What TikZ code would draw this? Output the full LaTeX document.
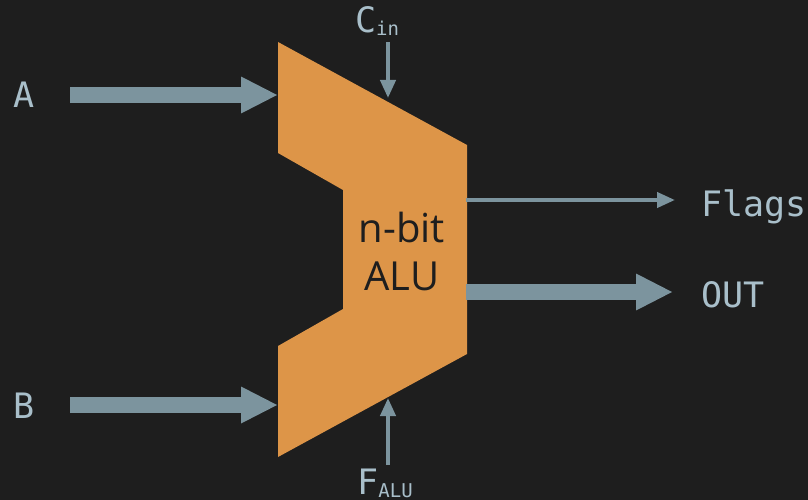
\documentclass[tikz,border=0pt]{standalone}
\usepackage{fontspec}
\setmainfont{Open Sans}
\newfontfamily\labelfont{DejaVu Sans Mono}
\newcommand\subfont{\labelfont\fontsize{19}{19}\selectfont}
\usetikzlibrary{arrows.meta}
\definecolor{bg}{HTML}{1E1E1E}
\definecolor{alufill}{HTML}{DD9548}
\definecolor{wire}{HTML}{7C949E}
\definecolor{labeltext}{HTML}{A9BFCA}
\tikzset{
  bus/.style={draw=wire, line width=16pt,
    -{Triangle[length=37pt,width=34pt]}},
  signal/.style={draw=wire, line width=4pt,
    -{Triangle[length=18pt,width=15pt]}},
  portlabel/.style={text=labeltext, inner sep=0pt,
    font=\labelfont\fontsize{35}{35}\selectfont},
  alutext/.style={text=bg, align=center, inner sep=0pt,
    font=\fontsize{40}{48}\selectfont},
}
\begin{document}
\begin{tikzpicture}[x=1pt, y=-1pt]
  % canvas
  \fill[bg] (0,0) rectangle (808,500);
  \useasboundingbox (0,0) rectangle (808,500);

  % ALU outline corners
  \coordinate (tl) at (278,42);
  \coordinate (tr) at (467,145);
  \coordinate (br) at (467,354);
  \coordinate (bl) at (278,457);
  \coordinate (nlb) at (278,346);
  \coordinate (nib) at (343,309);
  \coordinate (nit) at (343,190);
  \coordinate (nlt) at (278,153);
  \fill[alufill] (tl) -- (tr) -- (br) -- (bl) -- (nlb) -- (nib)
    -- (nit) -- (nlt) -- cycle;
  \node[alutext] (alu) at (402,251) {n-bit\\ALU};

  % port labels
  \node[portlabel, anchor=base] (A) at (24,108) {A};
  \node[portlabel, anchor=base] (B) at (24,418) {B};
  \node[portlabel, anchor=base west] (flags) at (701,216) {Flags};
  \node[portlabel, anchor=base west] (out) at (701,307) {OUT};
  \node[portlabel, anchor=base] (cin) at (377,33)
    {C\raisebox{-3pt}{\subfont in}};
  \node[portlabel, anchor=base] (falu) at (385,494)
    {F\raisebox{-3pt}{\subfont ALU}};

  % wire end points
  \coordinate (aS) at (70,95);    \coordinate (aE) at (278,95);
  \coordinate (bS) at (70,405);   \coordinate (bE) at (278,405);
  \coordinate (cS) at (388,42);   \coordinate (cE) at (388,98);
  \coordinate (fS) at (388,465);  \coordinate (fE) at (388,398);
  \coordinate (flS) at (466,200); \coordinate (flE) at (675,200);
  \coordinate (oS) at (466,292);  \coordinate (oE) at (673,292);

  % data buses
  \draw[bus] (aS) -- (aE);
  \draw[bus] (bS) -- (bE);
  \draw[bus] (oS) -- (oE);

  % control and status lines
  \draw[signal] (cS) -- (cE);
  \draw[signal] (fS) -- (fE);
  \draw[signal] (flS) -- (flE);
\end{tikzpicture}
\end{document}
